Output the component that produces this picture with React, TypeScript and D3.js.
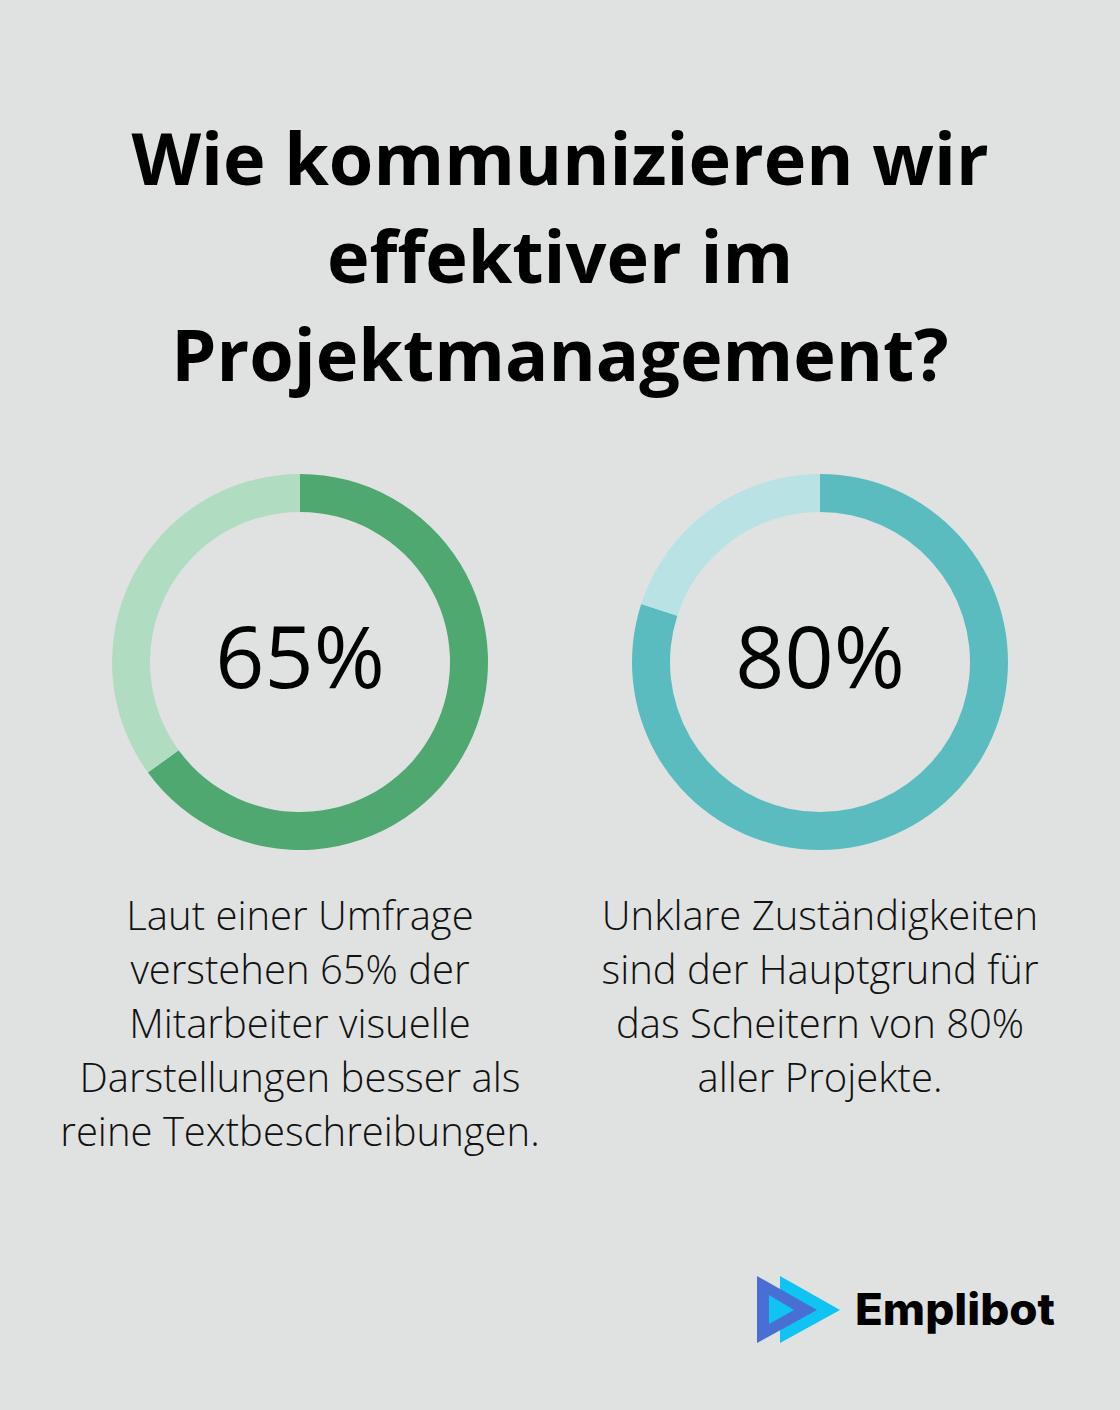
import React from "react";
import * as d3 from "d3";

const titleLines = ["Wie kommunizieren wir", "effektiver im", "Projektmanagement?"];
const percentValues = [65, 80];
const percentLabels = ["65%", "80%"];
const descriptions = [
  ["Laut einer Umfrage", "verstehen 65% der", "Mitarbeiter visuelle", "Darstellungen besser als", "reine Textbeschreibungen."],
  ["Unklare Zuständigkeiten", "sind der Hauptgrund für", "das Scheitern von 80%", "aller Projekte."],
];
const mainColors = ["#4EA870", "#5ABCBF"];
const restColors = ["#B0DCC2", "#B8E2E4"];

const W = 1120;
const H = 1410;

export default function App() {
  const outerR = 188;
  const innerR = 150;
  const centersX = [300, 820];
  const cy = 662;
  const arc = d3.arc<d3.PieArcDatum<number>>().innerRadius(innerR).outerRadius(outerR);
  const pie = d3.pie<number>().sort(null).value((d) => d);

  return (
    <svg
      width={W}
      height={H}
      style={{ position: "absolute", left: 0, top: 0, display: "block" }}
    >
      <rect x={0} y={0} width={W} height={H} fill="#E0E2E1" />
      {titleLines.map((t, i) => (
        <text
          key={i}
          x={W / 2}
          y={185 + i * 98}
          textAnchor="middle"
          fontFamily="'Open Sans', sans-serif"
          fontWeight={700}
          fontSize={72}
          fill="#000"
        >
          {t}
        </text>
      ))}
      {percentValues.map((v, i) => {
        const arcs = pie([v, 100 - v]);
        return (
          <g key={i} transform={`translate(${centersX[i]},${cy})`}>
            {arcs.map((a, j) => (
              <path key={j} d={arc(a) || ""} fill={j === 0 ? mainColors[i] : restColors[i]} />
            ))}
            <text
              x={0}
              y={26}
              textAnchor="middle"
              fontFamily="'Open Sans', sans-serif"
              fontWeight={400}
              fontSize={86}
              fill="#000"
            >
              {percentLabels[i]}
            </text>
          </g>
        );
      })}
      {descriptions.map((lines, i) => (
        <g key={i}>
          {lines.map((l, k) => (
            <text
              key={k}
              x={centersX[i]}
              y={930 + k * 54}
              textAnchor="middle"
              fontFamily="'Open Sans', sans-serif"
              fontWeight={300}
              fontSize={40}
              fill="#111"
            >
              {l}
            </text>
          ))}
        </g>
      ))}
      <g>
        <polygon points="780,1276 780,1343 840,1310" fill="#0FC3F2" />
        <polygon points="757,1276 757,1343 817,1310" fill="#4A6FD4" />
        <polygon points="769,1295 769,1324 794,1310" fill="#0FC3F2" />
        <text
          x={855}
          y={1325}
          fontFamily="Inter, 'Open Sans', sans-serif"
          fontWeight={800}
          fontSize={44}
          textLength={200}
          lengthAdjust="spacingAndGlyphs"
          fill="#000"
        >
          Emplibot
        </text>
      </g>
    </svg>
  );
}
